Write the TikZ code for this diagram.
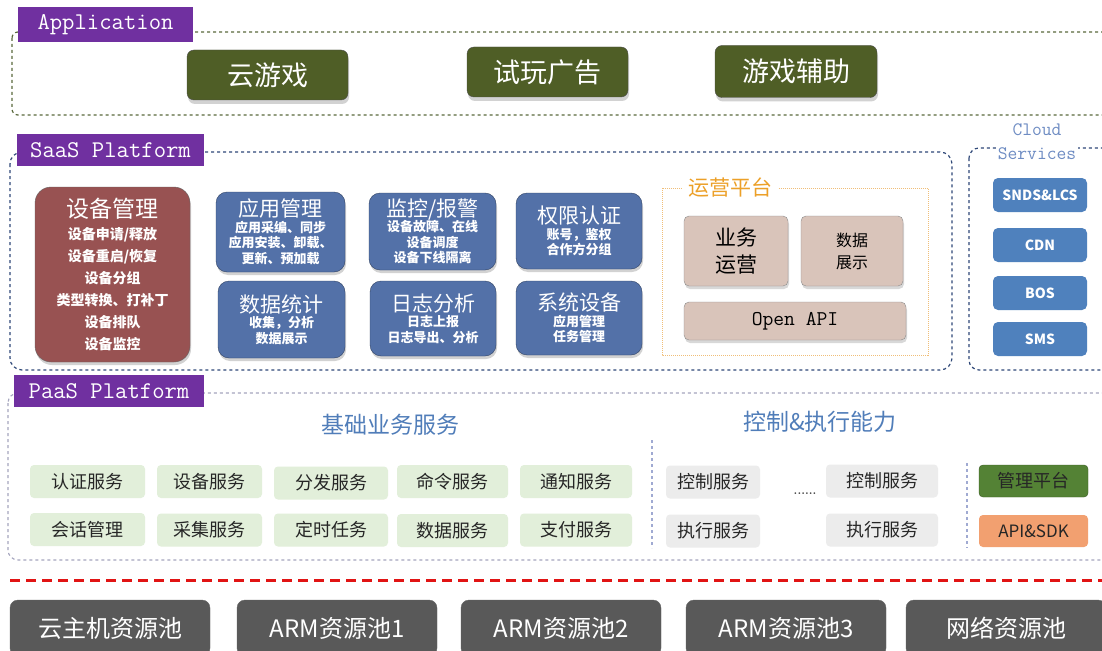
\documentclass[tikz,border=0pt]{standalone}
\usepackage{fontspec}
\newfontfamily\cjk{Noto Sans CJK SC}
\newcommand{\monof}{\ttfamily}
\usetikzlibrary{shadows}
\definecolor{purp}{RGB}{112,48,160}
\definecolor{olivebox}{RGB}{79,94,38}
\definecolor{oliveline}{RGB}{90,105,60}
\definecolor{saasline}{RGB}{47,72,120}
\definecolor{brownbox}{RGB}{152,82,82}
\definecolor{bluebox}{RGB}{83,113,168}
\definecolor{tanbox}{RGB}{217,196,186}
\definecolor{orangetxt}{RGB}{236,160,40}
\definecolor{orangeline}{RGB}{240,190,120}
\definecolor{cloudbox}{RGB}{79,129,189}
\definecolor{cloudtxt}{RGB}{110,140,195}
\definecolor{paasline}{RGB}{165,165,190}
\definecolor{greenbox}{RGB}{226,239,218}
\definecolor{headblue}{RGB}{80,125,185}
\definecolor{graybox}{RGB}{236,236,236}
\definecolor{mgmtgreen}{RGB}{84,130,53}
\definecolor{apiorange}{RGB}{242,160,112}
\definecolor{darkgray}{RGB}{89,89,89}
\definecolor{sepline}{RGB}{160,170,210}
\definecolor{redline}{RGB}{225,20,20}
\newcommand{\bigt}[1]{{\fontsize{21}{26}\selectfont\mdseries #1}}
\tikzset{
  lbl/.style={fill=purp,text=white,inner sep=0pt,font=\monof\fontsize{24}{26}\selectfont},
  appbox/.style={fill=olivebox,draw=black!70,rounded corners=7pt,text=white,inner sep=0pt,
    font=\cjk\fontsize{27}{30}\selectfont,drop shadow={opacity=0.35,shadow xshift=1pt,shadow yshift=-4pt}},
  devbox/.style={fill=brownbox,draw=black!60,rounded corners=16pt,text=white,inner sep=0pt,align=center,
    font=\cjk\bfseries\fontsize{14}{22}\selectfont,
    drop shadow={opacity=0.35,shadow xshift=1pt,shadow yshift=-3pt}},
  bluemod/.style={fill=bluebox,draw=bluebox!60!black,rounded corners=11pt,text=white,inner sep=0pt,align=center,
    font=\cjk\bfseries\fontsize{13}{15.5}\selectfont,
    drop shadow={opacity=0.35,shadow xshift=1pt,shadow yshift=-3pt}},
  tan/.style={fill=tanbox,draw=black!45,rounded corners=5pt,inner sep=0pt,align=center,
    drop shadow={opacity=0.3,shadow xshift=1pt,shadow yshift=-3pt}},
  cloud/.style={fill=cloudbox,rounded corners=5pt,text=white,inner sep=0pt,minimum width=94pt,minimum height=34pt,
    font=\cjk\bfseries\fontsize{14}{16}\selectfont},
  svc/.style={fill=greenbox,rounded corners=4pt,inner sep=0pt,minimum height=33pt,text=black!85,
    font=\cjk\fontsize{18}{20}\selectfont},
  ctl/.style={fill=graybox,rounded corners=4pt,inner sep=0pt,minimum height=33pt,text=black!85,
    font=\cjk\fontsize{18}{20}\selectfont},
  pool/.style={fill=darkgray,draw=black!60,rounded corners=8pt,text=white,inner sep=0pt,minimum width=200pt,minimum height=56pt,
    font=\cjk\fontsize{24}{28}\selectfont}
}
\begin{document}
\begin{tikzpicture}[x=1pt,y=-1pt]
\useasboundingbox[fill=white] (0,0) rectangle (1102,650);

% ---------------- Application ----------------
\draw[oliveline,dashed,line width=1.2pt,rounded corners=6pt] (12,32) rectangle (1115,115);
\node[lbl,minimum width=175pt,minimum height=35pt] (applbl) at (105.5,24.5) {Application};
\node[appbox,minimum width=161pt,minimum height=50pt] (a1) at (267.5,75) {云游戏};
\node[appbox,minimum width=161pt,minimum height=50pt] (a2) at (547.5,72) {试玩广告};
\node[appbox,minimum width=162pt,minimum height=52pt] (a3) at (796,71.5) {游戏辅助};

% ---------------- SaaS ----------------
\draw[saasline,dashed,line width=1.2pt,rounded corners=12pt] (10,152) rectangle (952,370);
\node[lbl,minimum width=187pt,minimum height=32pt] (saaslbl) at (110.5,150) {SaaS Platform};

\node[devbox,minimum width=155pt,minimum height=175pt] (dev) at (112.5,274.5)
  {{\fontsize{23}{32}\selectfont\mdseries 设备管理}\\设备申请/释放\\设备重启/恢复\\设备分组\\类型转换、打补丁\\设备排队\\设备监控};

\node[bluemod,minimum width=129pt,minimum height=80pt] (m1) at (280.5,232)
  {\bigt{应用管理}\\应用采编、同步\\应用安装、卸载、\\更新、预加载};
\node[bluemod,minimum width=127pt,minimum height=77pt] (m2) at (281.5,319.5)
  {\bigt{数据统计}\\收集，分析\\数据展示};
\node[bluemod,minimum width=127pt,minimum height=77pt] (m3) at (432.5,231.5)
  {\bigt{监控/报警}\\设备故障、在线\\设备调度\\设备下线隔离};
\node[bluemod,minimum width=126pt,minimum height=75pt] (m4) at (433,318.5)
  {\bigt{日志分析}\\日志上报\\日志导出、分析};
\node[bluemod,minimum width=126pt,minimum height=76pt] (m5) at (579,231)
  {\bigt{权限认证}\\账号，鉴权\\合作方分组};
\node[bluemod,minimum width=126pt,minimum height=74pt] (m6) at (579,318)
  {\bigt{系统设备}\\应用管理\\任务管理};

% 运营平台
\draw[orangeline,densely dotted,line width=1pt] (662,188) rectangle (928,355);
\node[fill=white,inner xsep=6pt,inner ysep=2pt,text=orangetxt,font=\cjk\fontsize{21}{22}\selectfont] (opslbl) at (730,188) {运营平台};
\node[tan,minimum width=104pt,minimum height=70pt,font=\cjk\fontsize{21}{27}\selectfont] (ops1) at (736,251) {业务\\运营};
\node[tan,minimum width=102pt,minimum height=70pt,font=\cjk\fontsize{16}{22}\selectfont] (ops2) at (852,251) {数据\\展示};
\node[tan,minimum width=222pt,minimum height=38pt,font=\monof\fontsize{21}{22}\selectfont] (openapi) at (795,321) {Open API};

% Cloud services
\draw[saasline,dashed,line width=1.2pt,rounded corners=10pt] (969,148) rectangle (1120,370);
\node[fill=white,inner sep=2pt,align=center,text=cloudtxt,font=\monof\fontsize{19}{24}\selectfont] (cloudlbl) at (1037,142) {Cloud\\Services};
\node[cloud] (c1) at (1040,195) {SNDS\&LCS};
\node[cloud] (c2) at (1040,245) {CDN};
\node[cloud] (c3) at (1040,293) {BOS};
\node[cloud] (c4) at (1040,339) {SMS};

% ---------------- PaaS ----------------
\draw[paasline,dashed,line width=1.1pt,rounded corners=10pt] (8,393) rectangle (1115,560);
\node[lbl,minimum width=190pt,minimum height=32pt] (paaslbl) at (109,391) {PaaS Platform};

\node[text=headblue,font=\cjk\fontsize{23}{26}\selectfont] (h1) at (390,425) {基础业务服务};
\node[text=headblue,font=\cjk\fontsize{23}{26}\selectfont] (h2) at (820,422) {控制\&执行能力};

\coordinate (s1t) at (652,440); \coordinate (s1b) at (652,548);
\coordinate (s2t) at (967,463); \coordinate (s2b) at (967,548);
\draw[sepline,dashed,line width=1.2pt] (s1t) -- (s1b);
\draw[sepline,dashed,line width=1.2pt] (s2t) -- (s2b);

\node[svc,minimum width=115pt] (g11) at (87.5,481.5) {认证服务};
\node[svc,minimum width=105pt] (g12) at (209.5,481.5) {设备服务};
\node[svc,minimum width=114pt] (g13) at (331,483) {分发服务};
\node[svc,minimum width=111pt] (g14) at (452.5,481.5) {命令服务};
\node[svc,minimum width=112pt] (g15) at (576,481.5) {通知服务};
\node[svc,minimum width=115pt] (g21) at (87.5,529.5) {会话管理};
\node[svc,minimum width=105pt] (g22) at (209.5,530) {采集服务};
\node[svc,minimum width=114pt] (g23) at (331,530) {定时任务};
\node[svc,minimum width=111pt] (g24) at (452.5,530.5) {数据服务};
\node[svc,minimum width=112pt] (g25) at (576,530) {支付服务};

\node[ctl,minimum width=94pt] (k11) at (713,482) {控制服务};
\node[ctl,minimum width=94pt] (k21) at (713,531) {执行服务};
\node[ctl,minimum width=112pt] (k12) at (882,481) {控制服务};
\node[ctl,minimum width=112pt] (k22) at (882,530) {执行服务};
\node[font=\bfseries\fontsize{12}{12}\selectfont,text=black!75] (dots) at (805,494) {......};

\node[fill=mgmtgreen,draw=mgmtgreen!70!black,rounded corners=4pt,inner sep=0pt,minimum width=109pt,minimum height=32pt,
  font=\cjk\fontsize{18}{20}\selectfont,text=black!85] (mg) at (1033.5,481) {管理平台};
\node[fill=apiorange,rounded corners=4pt,inner sep=0pt,minimum width=109pt,minimum height=32pt,
  font=\cjk\fontsize{17}{20}\selectfont,text=black!85] (api) at (1033.5,531) {API\&SDK};

% ---------------- red separator ----------------
\coordinate (r1) at (10,580); \coordinate (r2) at (1102,580);
\draw[redline,line width=3pt,dash pattern=on 10pt off 6pt] (r1) -- (r2);

% ---------------- resource pools ----------------
\node[pool] (p1) at (110,628) {云主机资源池};
\node[pool] (p2) at (337,628) {ARM资源池1};
\node[pool] (p3) at (561,628) {ARM资源池2};
\node[pool] (p4) at (786,628) {ARM资源池3};
\node[pool] (p5) at (1006,628) {网络资源池};
\end{tikzpicture}
\end{document}
